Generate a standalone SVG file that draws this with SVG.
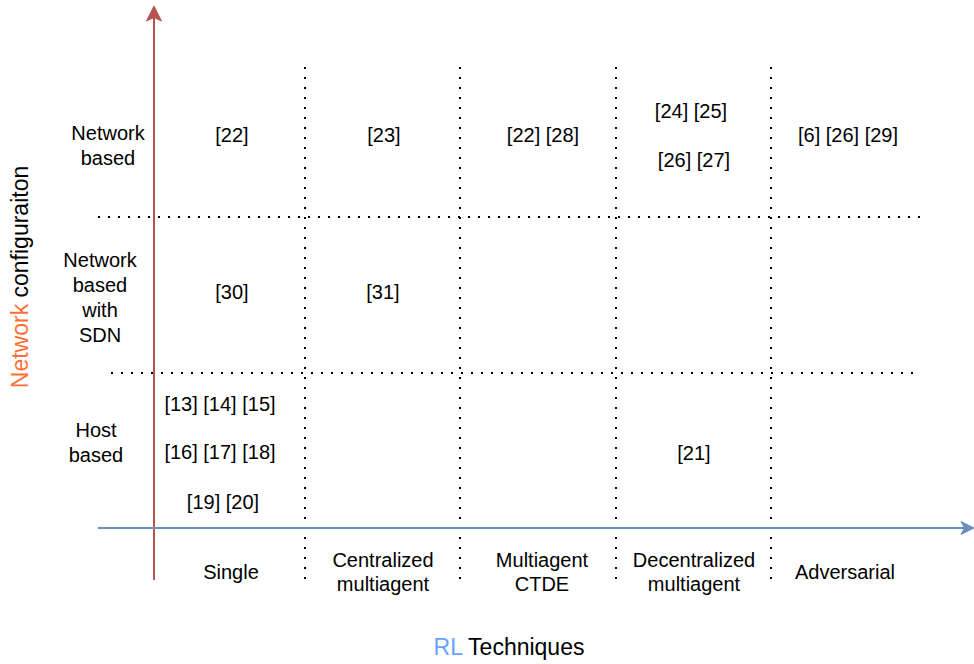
<svg xmlns="http://www.w3.org/2000/svg" width="974" height="664" viewBox="0 0 974 664">
<style>
text{font-family:"Liberation Sans",Arial,sans-serif;font-size:20px;fill:#000;text-anchor:middle;dominant-baseline:central}
.title{font-size:23px}
.dot{stroke:#000;stroke-width:2;stroke-dasharray:2 8;fill:none}
</style>
<rect width="974" height="664" fill="#fff"/>
<g id="grid">
<line class="dot" x1="305" y1="67" x2="305" y2="580"/>
<line class="dot" x1="460" y1="67" x2="460" y2="580"/>
<line class="dot" x1="616" y1="67" x2="616" y2="580"/>
<line class="dot" x1="771" y1="67" x2="771" y2="580"/>
<line class="dot" x1="98" y1="217" x2="920" y2="217"/>
<line class="dot" x1="111" y1="373" x2="920" y2="373"/>
</g>
<g id="connectors">
<line x1="154" y1="580" x2="154" y2="16" stroke="#b85450" stroke-width="2"/>
<path d="M154 6 L161.5 21 L154 17.5 L146.5 21 Z" fill="#b85450" stroke="#b85450" stroke-width="1"/>
<line x1="98" y1="528" x2="966" y2="528" stroke="#6c8ebf" stroke-width="2"/>
<path d="M974 528 L961 534.5 L964.5 528 L961 521.5 Z" fill="#6c8ebf" stroke="#6c8ebf" stroke-width="1"/>
</g>
<g id="row-labels">
<g id="row-network"><text x="108" y="133">Network</text><text x="108" y="158">based</text></g>
<g id="row-sdn"><text x="100" y="260">Network</text><text x="100" y="285">based</text><text x="100" y="310">with</text><text x="100" y="335">SDN</text></g>
<g id="row-host"><text x="96" y="430">Host</text><text x="96" y="455">based</text></g>
</g>
<g id="col-labels">
<g id="col-single"><text x="231" y="572">Single</text></g>
<g id="col-central"><text x="383" y="560">Centralized</text><text x="383" y="584">multiagent</text></g>
<g id="col-ctde"><text x="542" y="560">Multiagent</text><text x="542" y="584">CTDE</text></g>
<g id="col-decentral"><text x="694" y="560">Decentralized</text><text x="694" y="584">multiagent</text></g>
<g id="col-adv"><text x="845" y="572">Adversarial</text></g>
</g>
<g id="cells">
<text x="232" y="135">[22]</text>
<text x="384" y="135">[23]</text>
<text x="543" y="135">[22] [28]</text>
<text x="691" y="111">[24] [25]</text>
<text x="694" y="160">[26] [27]</text>
<text x="848" y="135">[6] [26] [29]</text>
<text x="232" y="292">[30]</text>
<text x="383" y="292">[31]</text>
<text x="220" y="404">[13] [14] [15]</text>
<text x="220" y="452">[16] [17] [18]</text>
<text x="223" y="502">[19] [20]</text>
<text x="694" y="453">[21]</text>
</g>
<g id="axis-titles">
<text class="title" x="509" y="647"><tspan fill="#66a3ff">RL</tspan> Techniques</text>
<text class="title" transform="translate(20 277) rotate(-90)"><tspan fill="#ff6f33">Network</tspan> configuraiton</text>
</g>
</svg>
